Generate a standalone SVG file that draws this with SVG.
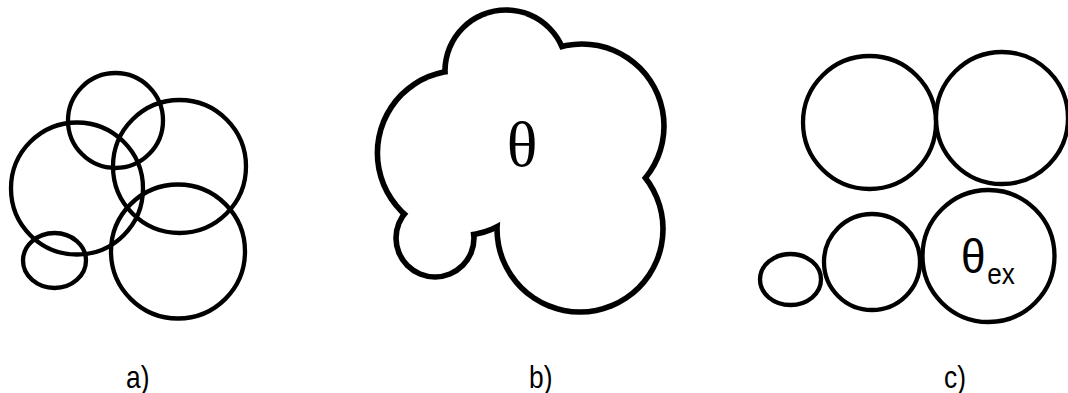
<svg xmlns="http://www.w3.org/2000/svg" width="1068" height="393" viewBox="0 0 1068 393">
<style>
.ring{fill:none;stroke:#000;stroke-width:4.3}
.outer{fill:#000}
.inner{fill:#fff}
.lbl{font-family:"Liberation Sans",Arial,sans-serif;font-size:31px;fill:#000}
.th{font-family:"Liberation Serif","Times New Roman",serif;font-size:64px;fill:#000}
.ths{font-family:"Liberation Sans",Arial,sans-serif;fill:#000}
</style>
<rect width="1068" height="393" fill="#fff"/>
<g id="panel-a">
<circle class="ring" cx="115.5" cy="120.5" r="47.5"/>
<circle class="ring" cx="77" cy="188.5" r="66"/>
<circle class="ring" cx="179.5" cy="166.5" r="66.5"/>
<circle class="ring" cx="178" cy="251.5" r="67"/>
<ellipse class="ring" cx="54.5" cy="260.5" rx="31.5" ry="27.5"/>
</g>
<g id="panel-b">
<g class="outer">
<circle cx="460" cy="153" r="85.4"/>
<circle cx="506" cy="71" r="63.8"/>
<circle cx="582" cy="126" r="84.8"/>
<circle cx="580" cy="229" r="85.8"/>
<circle cx="435" cy="238" r="41.8"/>
</g>
<g class="inner">
<circle cx="460" cy="153" r="79.8"/>
<circle cx="506" cy="71" r="58.2"/>
<circle cx="582" cy="126" r="79.2"/>
<circle cx="580" cy="229" r="80.2"/>
<circle cx="435" cy="238" r="36.2"/>
</g>
<text class="th" x="522" y="166" text-anchor="middle">θ</text>
</g>
<g id="panel-c">
<circle class="ring" cx="869.5" cy="122.5" r="66.5"/>
<circle class="ring" cx="1002" cy="118" r="66"/>
<circle class="ring" cx="988.5" cy="256" r="66"/>
<circle class="ring" cx="872" cy="262" r="48"/>
<ellipse class="ring" cx="790.5" cy="279.5" rx="30.5" ry="25.5"/>
<text class="ths" transform="translate(961,273) scale(0.9,1)" font-size="49">θ<tspan font-size="29" dx="2" dy="11">ex</tspan></text>
</g>
<g id="labels">
<text class="lbl" transform="translate(126,388) scale(0.85,1)">a)</text>
<text class="lbl" transform="translate(529,388) scale(0.85,1)">b)</text>
<text class="lbl" transform="translate(944,388) scale(0.85,1)">c)</text>
</g>
</svg>
